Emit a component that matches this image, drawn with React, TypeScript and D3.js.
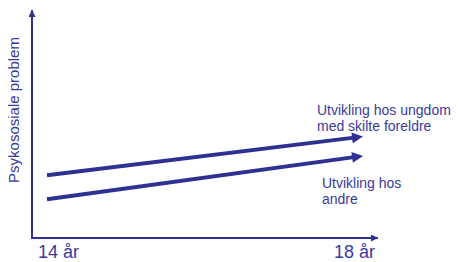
import { useEffect, useRef } from 'react'
import * as d3 from 'd3'

// alder (år) og nivå av psykososiale problem
const years = [14, 18]
const tickLabels = ['14 år', '18 år']
const divorced = [2.75, 4.45]
const others = [1.7, 3.6]
const seriesLabels = [
  ['Utvikling hos ungdom', 'med skilte foreldre'],
  ['Utvikling hos', 'andre'],
]
const yTitle = 'Psykososiale problem'

const W = 459
const H = 262
const blue = '#2e3092'
const textBlue = '#3a3a9e'
const font = 'Liberation Sans, Arial, sans-serif'

export default function App() {
  const ref = useRef<SVGSVGElement>(null)

  useEffect(() => {
    if (!ref.current) return
    const svg = d3.select(ref.current)
    svg.selectAll('*').remove()

    const originX = 32
    const originY = 238
    const x = d3.scaleLinear().domain([14, 18]).range([47, 363])
    const y = d3.scaleLinear().domain([0, 10]).range([originY, 10])

    const defs = svg.append('defs')
    defs.append('marker')
      .attr('id', 'head')
      .attr('viewBox', '0 0 10 10')
      .attr('refX', 10)
      .attr('refY', 5)
      .attr('markerUnits', 'userSpaceOnUse')
      .attr('markerWidth', 12)
      .attr('markerHeight', 11)
      .attr('orient', 'auto')
      .append('path')
      .attr('d', 'M0,0 L10,5 L0,10 Z')
      .attr('fill', blue)
    defs.append('marker')
      .attr('id', 'axisHead')
      .attr('viewBox', '0 0 10 10')
      .attr('refX', 10)
      .attr('refY', 5)
      .attr('markerUnits', 'userSpaceOnUse')
      .attr('markerWidth', 7)
      .attr('markerHeight', 7)
      .attr('orient', 'auto')
      .append('path')
      .attr('d', 'M0,0 L10,5 L0,10 Z')
      .attr('fill', blue)

    // Akser
    svg.append('line')
      .attr('x1', originX).attr('y1', originY)
      .attr('x2', originX).attr('y2', 10)
      .attr('stroke', blue).attr('stroke-width', 2)
      .attr('marker-end', 'url(#axisHead)')
    svg.append('line')
      .attr('x1', originX - 1).attr('y1', originY)
      .attr('x2', 378).attr('y2', originY)
      .attr('stroke', blue).attr('stroke-width', 2)
      .attr('marker-end', 'url(#axisHead)')

    // Utviklingslinjer
    const line = d3.line<[number, number]>().x(d => x(d[0])).y(d => y(d[1]))
    ;[divorced, others].forEach(vals => {
      const pts = years.map((yr, i) => [yr, vals[i]] as [number, number])
      const last = pts[1]
      // avkort linjen slik at pilspissen slutter i endepunktet
      const dx = x(last[0]) - x(pts[0][0])
      const dy = y(last[1]) - y(pts[0][1])
      const len = Math.hypot(dx, dy)
      const inner: [number, number] = [
        x.invert(x(last[0]) - dx / len * 9),
        y.invert(y(last[1]) - dy / len * 9),
      ]
      svg.append('path')
        .attr('d', line([pts[0], inner]))
        .attr('stroke', blue)
        .attr('stroke-width', 4)
        .attr('fill', 'none')
      svg.append('line')
        .attr('x1', x(inner[0])).attr('y1', y(inner[1]))
        .attr('x2', x(last[0])).attr('y2', y(last[1]))
        .attr('stroke', 'transparent')
        .attr('stroke-width', 1)
        .attr('marker-end', 'url(#head)')
    })

    // Serieetiketter
    const labelPos = [[317, 115], [322, 188]]
    seriesLabels.forEach((lines, i) => {
      const t = svg.append('text')
        .attr('x', labelPos[i][0])
        .attr('y', labelPos[i][1])
        .attr('fill', textBlue)
        .style('font-family', font)
        .style('font-size', '14px')
      lines.forEach((l, j) => {
        t.append('tspan').attr('x', labelPos[i][0]).attr('dy', j === 0 ? 0 : 16).text(l)
      })
    })

    // Aksetekster
    svg.selectAll('.tick-label')
      .data(tickLabels)
      .enter()
      .append('text')
      .attr('class', 'tick-label')
      .attr('x', (_, i) => (i === 0 ? x(years[0]) - 9 : x(years[1]) + 12))
      .attr('y', 258)
      .attr('text-anchor', (_, i) => (i === 0 ? 'start' : 'end'))
      .attr('fill', textBlue)
      .style('font-family', font)
      .style('font-size', '18px')
      .text(d => d)

    svg.append('text')
      .attr('transform', `translate(19, 110) rotate(-90)`)
      .attr('text-anchor', 'middle')
      .attr('fill', textBlue)
      .style('font-family', font)
      .style('font-size', '15px')
      .text(yTitle)
  }, [])

  return (
    <svg
      ref={ref}
      width={W}
      height={H}
      style={{ position: 'absolute', left: 0, top: 0, background: '#fff' }}
    />
  )
}
